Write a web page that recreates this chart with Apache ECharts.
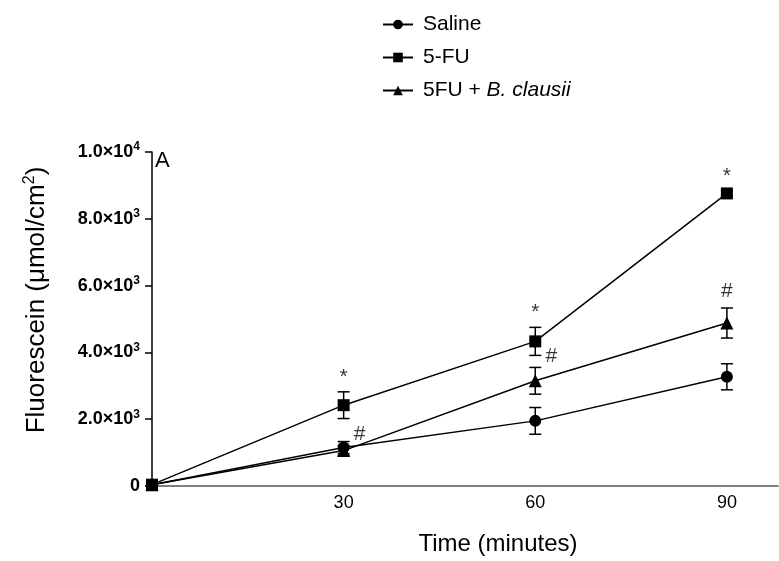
<!DOCTYPE html>
<html>
<head>
<meta charset="utf-8">
<script src="https://cdn.jsdelivr.net/npm/echarts@6/dist/echarts.min.js"></script>
<style>
  html, body { margin: 0; padding: 0; background: #fff; }
  #main { width: 779px; height: 561px; }
</style>
</head>
<body>
<div id="main"></div>
<script>
// time points (minutes)
var times = [0, 30, 60, 90];

// fluorescein, mean and error per group
var saline = [40, 1150, 1950, 3270];
var salineErr = [0, 180, 400, 390];
var fu = [40, 2420, 4330, 8760];
var fuErr = [0, 400, 420, 80];
var fuBc = [40, 1060, 3150, 4880];
var fuBcErr = [0, 150, 400, 450];

// significance marks
var fuMarks = ['', '*', '*', '*'];
var fuBcMarks = ['', '#', '#', '#'];

var xTicks = [30, 60, 90];
var legendNames = ['Saline', '5-FU', '5FU + B. clausii'];

var FONT = '"Liberation Sans", Arial, sans-serif';

var chart = echarts.init(document.getElementById('main'));

function yLabel(v) {
  if (v === 0) return '{m|0}';
  var e = Math.floor(Math.log10(v));
  var m = (v / Math.pow(10, e)).toFixed(1);
  return '{m|' + m + '\u00d710}{e|' + e + '}';
}

function errData(vals, errs) {
  var out = [];
  for (var i = 0; i < vals.length; i++) {
    if (errs[i] > 0) out.push([times[i], vals[i] - errs[i], vals[i] + errs[i]]);
  }
  return out;
}

function errSeries(vals, errs) {
  return {
    type: 'custom',
    z: 1,
    silent: true,
    data: errData(vals, errs),
    renderItem: function (params, api) {
      var lo = api.coord([api.value(0), api.value(1)]);
      var hi = api.coord([api.value(0), api.value(2)]);
      var st = { stroke: '#000', lineWidth: 1.5 };
      return {
        type: 'group',
        children: [
          { type: 'line', shape: { x1: lo[0], y1: lo[1], x2: hi[0], y2: hi[1] }, style: st },
          { type: 'line', shape: { x1: lo[0] - 6, y1: lo[1], x2: lo[0] + 6, y2: lo[1] }, style: st },
          { type: 'line', shape: { x1: hi[0] - 6, y1: hi[1], x2: hi[0] + 6, y2: hi[1] }, style: st }
        ]
      };
    }
  };
}

function lineSeries(name, vals, symbol, size) {
  return {
    name: name,
    type: 'line',
    z: 3,
    data: times.map(function (t, i) { return [t, vals[i]]; }),
    symbol: symbol,
    symbolSize: size,
    showAllSymbol: true,
    lineStyle: { color: '#000', width: 1.5 },
    itemStyle: { color: '#000' }
  };
}

function markSeries(vals, errs, marks, labelFor) {
  var data = [];
  for (var i = 0; i < marks.length; i++) {
    if (!marks[i]) continue;
    var lab = labelFor(i);
    lab.show = true;
    lab.formatter = marks[i];
    data.push({ value: [times[i], vals[i] + errs[i]], label: lab });
  }
  return {
    type: 'scatter',
    silent: true,
    z: 4,
    symbolSize: 1,
    itemStyle: { color: 'rgba(0,0,0,0)' },
    label: { show: true, position: 'top', color: '#000', fontSize: 21, fontFamily: FONT },
    data: data
  };
}

var option = {
  backgroundColor: '#fff',
  animation: false,
  grid: { left: 152, right: 1, top: 152, bottom: 74 },
  legend: {
    orient: 'vertical',
    left: 377,
    top: 9,
    itemWidth: 30,
    itemHeight: 12,
    itemGap: 12,
    data: legendNames,
    formatter: function (n) {
      return n === '5FU + B. clausii' ? '5FU + {i|B. clausii}' : n;
    },
    textStyle: {
      fontSize: 21,
      fontFamily: FONT,
      color: '#000',
      padding: [0, 0, 0, 5],
      rich: { i: { fontSize: 21, fontFamily: FONT, fontStyle: 'italic', color: '#000' } }
    }
  },
  graphic: [{
    type: 'text',
    left: 155,
    top: 150,
    style: { text: 'A', fontSize: 22, fontFamily: FONT, fill: '#000' }
  }],
  xAxis: {
    type: 'value',
    min: 0,
    max: 98,
    name: 'Time (minutes)',
    nameLocation: 'middle',
    nameGap: 46,
    nameTextStyle: { fontSize: 24, fontFamily: FONT, color: '#000', padding: [0, 0, 0, 66] },
    axisLine: { lineStyle: { color: '#555', width: 1.5 } },
    axisTick: { show: false },
    splitLine: { show: false },
    axisLabel: {
      customValues: xTicks,
      margin: 8,
      fontSize: 18,
      fontFamily: FONT,
      color: '#000'
    }
  },
  yAxis: {
    type: 'value',
    min: 0,
    max: 10000,
    interval: 2000,
    name: 'Fluorescein (\u03bcmol/cm{s|2})',
    nameLocation: 'middle',
    nameGap: 100,
    nameTextStyle: {
      fontSize: 26,
      fontFamily: FONT,
      color: '#000',
      padding: [0, 0, 0, 38],
      rich: { s: { fontSize: 16, fontFamily: FONT, color: '#000', padding: [0, 0, 14, 0] } }
    },
    axisLine: { show: true, lineStyle: { color: '#000', width: 1.5 } },
    axisTick: { show: true, length: 7, lineStyle: { color: '#000', width: 1.5 } },
    splitLine: { show: false },
    axisLabel: {
      margin: 12,
      formatter: yLabel,
      rich: {
        m: { fontSize: 18, fontWeight: 'bold', fontFamily: FONT, color: '#000' },
        e: { fontSize: 12, fontWeight: 'bold', fontFamily: FONT, color: '#000', padding: [0, 0, 10, 0] }
      }
    }
  },
  series: [
    errSeries(saline, salineErr),
    errSeries(fu, fuErr),
    errSeries(fuBc, fuBcErr),
    lineSeries('5FU + B. clausii', fuBc, 'triangle', 13),
    lineSeries('Saline', saline, 'circle', 12),
    lineSeries('5-FU', fu, 'rect', 12),
    markSeries(fu, fuErr, fuMarks, function () { return { distance: 4 }; }),
    markSeries(fuBc, fuBcErr, fuBcMarks, function (i) {
      return i < 3 ? { distance: 0, offset: [16, 0] } : { distance: 6 };
    })
  ]
};

chart.setOption(option);
</script>
</body>
</html>
